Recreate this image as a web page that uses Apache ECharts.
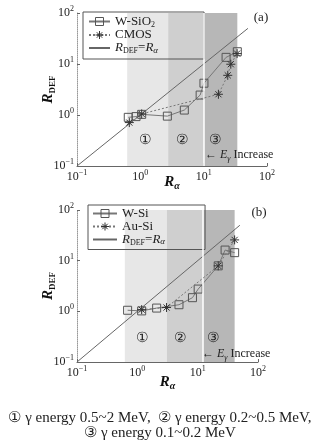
<!DOCTYPE html>
<html><head><meta charset="utf-8">
<script src="https://cdn.jsdelivr.net/npm/echarts@6/dist/echarts.min.js"></script>
<style>html,body{margin:0;padding:0;background:#fff}#c{width:320px;height:442px}</style>
</head><body><div id="c"></div>
<script>
// ---- data ----
const axisMin = 0.1, axisMax = 100;
const tickExponents = [-1, 0, 1, 2];
const diagX = [0.1, 50];
// panel (a)
const bandEdgesA = [0.62, 2.75, 10, 34];
const wsio2X = [0.645, 0.855, 1.05, 2.67, 4.95, 8.8, 10.1, 22.6, 34];
const wsio2Y = [0.90, 0.93, 1.03, 0.95, 1.25, 2.46, 4.2, 13.5, 17.4];
const cmosX = [0.67, 1.05, 17.1, 24, 26.8, 33.7];
const cmosY = [0.71, 1.05, 2.55, 6.0, 9.9, 16];
// panel (b)
const bandEdgesB = [0.62, 3.1, 12.3, 41];
const wsiX = [0.69, 1.18, 2.09, 4.9, 8.2, 10.2, 21.9, 28.5, 41];
const wsiY = [1.05, 1.02, 1.16, 1.35, 1.86, 2.75, 7.9, 16.2, 14.4];
const ausiX = [1.18, 3.05, 21.9, 41];
const ausiY = [1.08, 1.19, 7.9, 25.7];
const bandLabels = ['①', '②', '③'];
const captionLines = ['① γ energy 0.5~2 MeV,  ② γ energy 0.2~0.5 MeV,', '③ γ energy 0.1~0.2 MeV'];

// ---- helpers ----
const SERIF = '"Liberation Serif","DejaVu Serif",serif';
const zip = (a, b) => a.map((v, i) => [v, b[i]]);
const bandColors = ['#e7e7e7', '#cfcfcf', '#b7b7b7'];
function bands(edges) {
  return [0, 1, 2].map(i => [{ xAxis: edges[i], itemStyle: { color: bandColors[i] } }, { xAxis: edges[i + 1] }]);
}
const tickRich = {
  b: { fontFamily: SERIF, fontSize: 12, color: '#222', lineHeight: 16 },
  s: { fontFamily: SERIF, fontSize: 8, color: '#222', verticalAlign: 'top' }
};
function tickFmt(v) {
  const e = Math.round(Math.log10(v));
  if (tickExponents.indexOf(e) < 0) return '';
  return '{b|10}{s|' + String(e).replace('-', '−') + '}';
}
const nameRich = {
  r: { fontFamily: SERIF, fontSize: 15, fontStyle: 'italic', fontWeight: 'bold', color: '#111', lineHeight: 18 },
  s: { fontFamily: SERIF, fontSize: 9, fontWeight: 'bold', color: '#111', verticalAlign: 'bottom' },
  si: { fontFamily: SERIF, fontSize: 10, fontStyle: 'italic', fontWeight: 'bold', color: '#111', verticalAlign: 'bottom' }
};
function xAxisCfg(gi, gap) {
  return {
    type: 'log', logBase: 10, gridIndex: gi, min: axisMin, max: axisMax,
    name: '{r|R}{si|α}', nameLocation: 'middle', nameGap: gap, nameMoveOverlap: false, nameTextStyle: { rich: nameRich },
    axisLine: { lineStyle: { color: '#666', width: 1 } },
    axisTick: { inside: true, length: 3, lineStyle: { color: '#666' } },
    splitLine: { show: false },
    axisLabel: { formatter: tickFmt, rich: tickRich, margin: 3 }
  };
}
function yAxisCfg(gi) {
  return {
    type: 'log', logBase: 10, gridIndex: gi, min: axisMin, max: axisMax,
    name: '{r|R}{s|DEF}', nameLocation: 'middle', nameGap: 20, nameRotate: 90, nameMoveOverlap: false, nameTextStyle: { rich: nameRich },
    axisLine: { lineStyle: { color: '#999', width: 1, type: 'dotted' } },
    axisTick: { inside: true, length: 3, lineStyle: { color: '#666' } },
    splitLine: { show: false },
    axisLabel: { formatter: tickFmt, rich: tickRich, margin: 3 }
  };
}
const clear = 'rgba(0,0,0,0)';
const squareStyle = { color: clear, borderColor: '#555', borderWidth: 1 };
const starPath = 'path://M5,0L5,10M0,5L10,5M1.6,1.6L8.4,8.4M1.6,8.4L8.4,1.6';
const starStyle = { color: clear, borderColor: '#333', borderWidth: 1 };
function diagSeries(name, gi, edges) {
  return {
    name: name, type: 'line', xAxisIndex: gi, yAxisIndex: gi, symbol: 'none', silent: true, z: 2,
    data: zip(diagX, diagX), lineStyle: { color: '#666', width: 1 }, itemStyle: { color: '#666' },
    markArea: { silent: true, data: bands(edges), z: 1 },
    markLine: { silent: true, symbol: 'none', label: { show: false }, lineStyle: { color: '#fff', width: 1.5, type: 'solid' }, data: [{ xAxis: edges[2] }] }
  };
}
function sqSeries(name, gi, xs, ys) {
  return {
    name: name, type: 'line', xAxisIndex: gi, yAxisIndex: gi, data: zip(xs, ys), z: 4,
    symbol: 'rect', symbolSize: 8, itemStyle: squareStyle,
    lineStyle: { color: '#777', width: 1 }
  };
}
function starSeries(name, gi, xs, ys) {
  return {
    name: name, type: 'line', xAxisIndex: gi, yAxisIndex: gi, data: zip(xs, ys), z: 5,
    symbol: starPath, symbolSize: 9, itemStyle: starStyle,
    lineStyle: { color: '#777', width: 1, type: [2, 2] }
  };
}
const legendRich = {
  t: { fontFamily: SERIF, fontSize: 13, color: '#222', lineHeight: 14 },
  i: { fontFamily: SERIF, fontSize: 13, fontStyle: 'italic', color: '#222', lineHeight: 14 },
  s: { fontFamily: SERIF, fontSize: 8, color: '#222', verticalAlign: 'bottom' },
  si: { fontFamily: SERIF, fontSize: 9, fontStyle: 'italic', color: '#222', verticalAlign: 'bottom' }
};
const legendText = {
  'W-SiO2': '{t|W-SiO}{s|2}', 'CMOS': '{t|CMOS}', 'W-Si': '{t|W-Si}', 'Au-Si': '{t|Au-Si}',
  'diagA': '{i|R}{s|DEF}{t|=}{i|R}{si|α}', 'diagB': '{i|R}{s|DEF}{t|=}{i|R}{si|α}'
};
function legendCfg(names, left, top, pad, iw) {
  const items = [
    { name: names[0], itemStyle: { color: clear, borderColor: '#555', borderWidth: 1 } },
    { name: names[1], itemStyle: { color: clear, borderColor: '#333', borderWidth: 1 } },
    { name: names[2], itemStyle: { color: clear, borderColor: clear, borderWidth: 0, opacity: 0 } }
  ];
  return {
    data: items, left: left, top: top, orient: 'vertical', itemWidth: iw, itemHeight: 10, itemGap: 0,
    padding: pad, borderColor: '#555', borderWidth: 1, selectedMode: false,
    textStyle: { rich: legendRich, fontFamily: SERIF, fontSize: 13 },
    formatter: n => legendText[n]
  };
}
const incRich = {
  t: { fontFamily: SERIF, fontSize: 12, fill: '#222', lineHeight: 16 },
  i: { fontFamily: SERIF, fontSize: 12, fontStyle: 'italic', fill: '#222', lineHeight: 16 },
  s: { fontFamily: SERIF, fontSize: 8, fontStyle: 'italic', fill: '#222', verticalAlign: 'bottom' }
};
function incText(x, y) {
  return { type: 'text', z: 100, x: x, y: y, style: { text: '{t|← }{i|E}{s|γ}{t| Increase}', rich: incRich, verticalAlign: 'middle', fill: '#222' } };
}
function plain(x, y, t, size) {
  return { type: 'text', z: 100, x: x, y: y, style: { text: t, fontFamily: SERIF, fontSize: size, fill: '#222', align: 'center', verticalAlign: 'middle' } };
}

const option = {
  animation: false,
  backgroundColor: '#fff',
  grid: [
    { left: 77, top: 13, width: 190, height: 153 },
    { left: 77, top: 210, width: 181, height: 152 }
  ],
  xAxis: [xAxisCfg(0, 7), xAxisCfg(1, 11)],
  yAxis: [yAxisCfg(0), yAxisCfg(1)],
  legend: [
    legendCfg(['W-SiO2', 'CMOS', 'diagA'], 83, 12, [3, 46, 4, 5], 21),
    legendCfg(['W-Si', 'Au-Si', 'diagB'], 88, 205, [2, 40, 3, 4], 24)
  ],
  series: [
    diagSeries('diagA', 0, bandEdgesA),
    sqSeries('W-SiO2', 0, wsio2X, wsio2Y),
    starSeries('CMOS', 0, cmosX, cmosY),
    diagSeries('diagB', 1, bandEdgesB),
    sqSeries('W-Si', 1, wsiX, wsiY),
    starSeries('Au-Si', 1, ausiX, ausiY)
  ],
  graphic: [
    plain(261, 18, '(a)', 13),
    plain(259, 213, '(b)', 13),
    plain(145, 140, bandLabels[0], 14), plain(182, 140, bandLabels[1], 14), plain(215, 140, bandLabels[2], 14),
    plain(142, 338, bandLabels[0], 14), plain(180, 338, bandLabels[1], 14), plain(213, 338, bandLabels[2], 14),
    incText(205, 155),
    incText(202, 354),
    plain(160, 418, captionLines[0], 15),
    plain(160, 433, captionLines[1], 15)
  ]
};
const chart = echarts.init(document.getElementById('c'), null, { renderer: 'canvas' });
chart.setOption(option);
</script></body></html>
